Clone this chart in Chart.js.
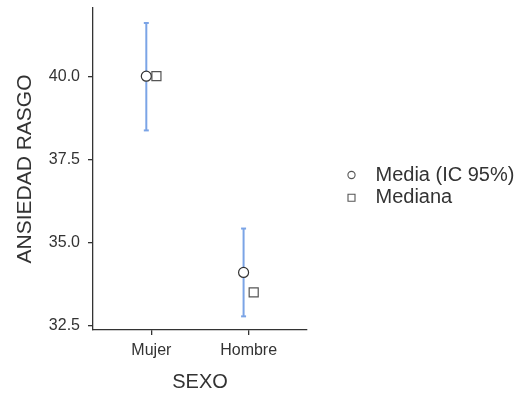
<!DOCTYPE html>
<html lang="es">
<head>
    <meta charset="UTF-8">
    <title>ANSIEDAD RASGO por SEXO</title>
    <style>
        html, body { margin: 0; padding: 0; background: #fff; }
        #wrap { width: 522px; height: 394px; }
    </style>
</head>
<body>
    <div id="wrap"><canvas id="myChart01" width="522" height="394"></canvas></div>
    <script src="https://cdn.jsdelivr.net/npm/chart.js"></script>
    <script>
        // datos por categoría
        var categories = ['Mujer', 'Hombre'];
        var media = [40.0, 34.1];
        var mediana = [40.0, 33.5];
        var icLower = [38.37, 32.78];
        var icUpper = [41.60, 35.42];
        var yTicks = [32.5, 35.0, 37.5, 40.0];

        var FONT = "'Liberation Sans', Arial, sans-serif";
        var TEXT = '#333333';
        var BLUE = '#7ba4e6';
        var dodge = 0.052; // separación media / mediana

        var mediaPts = media.map(function (v, i) { return { x: i + 1 - dodge, y: v }; });
        var medianaPts = mediana.map(function (v, i) { return { x: i + 1 + dodge, y: v }; });

        var datasets = [
            {
                label: 'Media (IC 95%)',
                data: mediaPts,
                pointStyle: 'circle',
                pointRadius: 5,
                pointBackgroundColor: '#ffffff',
                pointBorderColor: '#333333',
                pointBorderWidth: 1.2,
                legend: true
            },
            {
                label: 'Mediana',
                data: medianaPts,
                pointStyle: 'rect',
                pointRadius: 6.4,
                pointBackgroundColor: '#ffffff',
                pointBorderColor: '#555555',
                pointBorderWidth: 1.2,
                legend: true
            }
        ];
        // barras de error IC 95%
        categories.forEach(function (c, i) {
            datasets.push({
                label: 'IC ' + c,
                data: [{ x: i + 1 - dodge, y: icLower[i] }, { x: i + 1 - dodge, y: icUpper[i] }],
                showLine: true,
                borderColor: BLUE,
                borderWidth: 2,
                pointStyle: 'line',
                pointRadius: 2.5,
                pointBorderColor: BLUE,
                pointBorderWidth: 2
            });
        });

        // leyenda a la derecha
        var sideLegend = {
            id: 'sideLegend',
            afterDraw: function (chart) {
                var ctx = chart.ctx;
                var items = chart.data.datasets.filter(function (d) { return d.legend; });
                var x0 = 351.5, y0 = 175, step = 22.7;
                ctx.save();
                items.forEach(function (d, k) {
                    var y = y0 + k * step;
                    ctx.lineWidth = 1.1;
                    ctx.strokeStyle = '#555555';
                    ctx.fillStyle = '#ffffff';
                    ctx.beginPath();
                    if (d.pointStyle === 'circle') {
                        ctx.arc(x0, y, 3.6, 0, Math.PI * 2);
                    } else {
                        ctx.rect(x0 - 3.5, y - 3.5, 7, 7);
                    }
                    ctx.fill();
                    ctx.stroke();
                    ctx.fillStyle = TEXT;
                    ctx.font = '20px ' + FONT;
                    ctx.textAlign = 'left';
                    ctx.textBaseline = 'middle';
                    ctx.fillText(d.label, 375.5, y);
                });
                ctx.restore();
            }
        };

        var ctx01 = document.getElementById('myChart01');
        var chart01 = new Chart(ctx01, {
            type: 'scatter',
            data: { datasets: datasets },
            plugins: [sideLegend],
            options: {
                responsive: false,
                animation: false,
                events: [],
                layout: { padding: { top: 8, right: 215, left: 0, bottom: 0 } },
                plugins: {
                    legend: { display: false },
                    tooltip: { enabled: false }
                },
                scales: {
                    x: {
                        type: 'linear',
                        min: 0.4,
                        max: 2.6,
                        afterBuildTicks: function (scale) {
                            scale.ticks = categories.map(function (c, i) { return { value: i + 1 }; });
                        },
                        afterFit: function (scale) {
                            scale.height = 64;
                            scale.paddingLeft = 0;
                            scale.paddingRight = 0;
                        },
                        ticks: {
                            callback: function (v) { return categories[Math.round(v) - 1]; },
                            color: TEXT,
                            font: { family: FONT, size: 16 },
                            padding: 6,
                            maxRotation: 0
                        },
                        grid: { drawOnChartArea: false, drawTicks: true, tickLength: 5, color: '#333333', lineWidth: 1.3 },
                        border: { display: true, color: '#333333', width: 1.3 },
                        title: {
                            display: true,
                            text: 'SEXO',
                            color: TEXT,
                            font: { family: FONT, size: 20 },
                            padding: { top: 0, bottom: 0 }
                        }
                    },
                    y: {
                        min: 32.37,
                        max: 42.05,
                        afterBuildTicks: function (scale) {
                            scale.ticks = yTicks.map(function (v) { return { value: v }; });
                        },
                        afterFit: function (scale) {
                            scale.width = 93;
                            scale.paddingTop = 0;
                            scale.paddingBottom = 0;
                        },
                        ticks: {
                            callback: function (v) { return Number(v).toFixed(1); },
                            color: TEXT,
                            font: { family: FONT, size: 16 },
                            padding: 8
                        },
                        grid: { drawOnChartArea: false, drawTicks: true, tickLength: 5, color: '#333333', lineWidth: 1.3 },
                        border: { display: true, color: '#333333', width: 1.3 },
                        title: {
                            display: true,
                            text: 'ANSIEDAD RASGO',
                            color: TEXT,
                            font: { family: FONT, size: 21 },
                            padding: { top: 13, bottom: 0 }
                        }
                    }
                }
            }
        });
    </script>
</body>
</html>
